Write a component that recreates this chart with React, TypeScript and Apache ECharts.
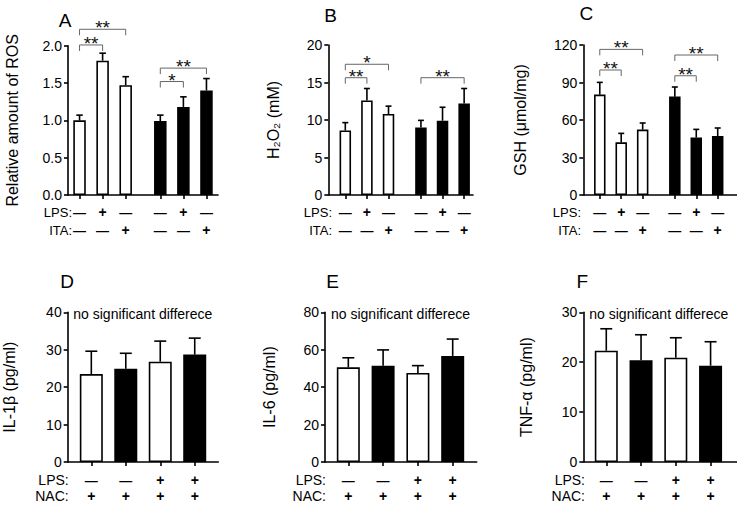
import React, { useEffect, useRef } from "react";
import * as echarts from "echarts";

// ---------- data ----------
const topPositions = [1, 2, 3, 4.5, 5.5, 6.5];
const bottomPositions = [1, 2, 3, 4];
const topGroups = ["open", "open", "open", "filled", "filled", "filled"];
const bottomGroups = ["open", "filled", "open", "filled"];

const rosMean = [1.0, 1.8, 1.47, 0.99, 1.18, 1.4];
const rosErr = [0.07, 0.1, 0.115, 0.08, 0.135, 0.16];
const rosSig: [number, number, number, string][] = [
  [1, 2, 2.01, "**"],
  [1, 3, 2.22, "**"],
  [4.5, 5.5, 1.52, "*"],
  [4.5, 6.5, 1.7, "**"],
];

const h2o2Mean = [8.6, 12.6, 10.8, 9.0, 9.9, 12.2];
const h2o2Err = [1.05, 1.6, 1.05, 0.95, 1.8, 2.0];
const h2o2Sig: [number, number, number, string][] = [
  [1, 2, 15.64, "**"],
  [1, 3, 17.43, "*"],
  [4.5, 6.5, 15.64, "**"],
];

const gshMean = [80.3, 42.1, 52.3, 78.7, 45.9, 47.2];
const gshErr = [9.8, 7.2, 5.3, 7.7, 6.6, 6.4];
const gshSig: [number, number, number, string][] = [
  [1, 2, 100, "**"],
  [1, 3, 116.5, "**"],
  [4.5, 5.5, 95.4, "**"],
  [4.5, 6.5, 112, "**"],
];

const il1bMean = [23.5, 24.9, 26.8, 28.7];
const il1bErr = [6.1, 4.15, 5.5, 4.4];
const il6Mean = [50.6, 51.5, 47.6, 56.7];
const il6Err = [5.1, 8.4, 3.9, 9.0];
const tnfMean = [22.3, 20.4, 20.9, 19.3];
const tnfErr = [4.4, 5.1, 4.0, 4.8];

const topLPS = ["—", "+", "—", "—", "+", "—"];
const topITA = ["—", "—", "+", "—", "—", "+"];
const bottomLPS = ["—", "—", "+", "+"];
const bottomNAC = ["+", "+", "+", "+"];
const topRowNames = ["LPS:", "ITA:"];
const bottomRowNames = ["LPS:", "NAC:"];
const noSigText = "no significant differece";

// ---------- layout ----------
const FONT = "'Liberation Sans', Arial, Helvetica, sans-serif";

type Panel = {
  letter: string;
  yName: string;
  pos: number[];
  groups: string[];
  mean: number[];
  err: number[];
  sig: [number, number, number, string][];
  rows: string[][];
  rowNames: string[];
  yMax: number;
  yInt: number;
  decimals: number;
  noSig: boolean;
  L: {
    left: number; top: number; width: number; height: number;
    xMin: number; xMax: number; barW: number; nameGap: number;
    letterX: number; letterY: number; rowLabelX: number; rowOff: number[];
    rowFont: number; noSigX: number;
  };
};

const panels: Panel[] = [
  {
    letter: "A", yName: "Relative amount of ROS", pos: topPositions, groups: topGroups,
    mean: rosMean, err: rosErr, sig: rosSig, rows: [topLPS, topITA], rowNames: topRowNames,
    yMax: 2, yInt: 0.5, decimals: 1, noSig: false,
    L: { left: 68, top: 45.7, width: 150, height: 149.3, xMin: 0.5, xMax: 7.0, barW: 12.5, nameGap: 48,
      letterX: 65, letterY: 20, rowLabelX: 72, rowOff: [17.3, 35], rowFont: 13, noSigX: 0 },
  },
  {
    letter: "B", yName: "H₂O₂ (mM)", pos: topPositions, groups: topGroups,
    mean: h2o2Mean, err: h2o2Err, sig: h2o2Sig, rows: [topLPS, topITA], rowNames: topRowNames,
    yMax: 20, yInt: 5, decimals: 0, noSig: false,
    L: { left: 328.3, top: 45, width: 144.7, height: 150, xMin: 0.213, xMax: 6.91, barW: 11.5, nameGap: 47,
      letterX: 330.7, letterY: 15.2, rowLabelX: 332, rowOff: [17.3, 35], rowFont: 13, noSigX: 0 },
  },
  {
    letter: "C", yName: "GSH (μmol/mg)", pos: topPositions, groups: topGroups,
    mean: gshMean, err: gshErr, sig: gshSig, rows: [topLPS, topITA], rowNames: topRowNames,
    yMax: 120, yInt: 30, decimals: 0, noSig: false,
    L: { left: 583.3, top: 45, width: 153.7, height: 150, xMin: 0.231, xMax: 7.40, barW: 11.5, nameGap: 55,
      letterX: 586.3, letterY: 13.7, rowLabelX: 581, rowOff: [17.3, 35], rowFont: 13, noSigX: 0 },
  },
  {
    letter: "D", yName: "IL-1β (pg/ml)", pos: bottomPositions, groups: bottomGroups,
    mean: il1bMean, err: il1bErr, sig: [], rows: [bottomLPS, bottomNAC], rowNames: bottomRowNames,
    yMax: 40, yInt: 10, decimals: 0, noSig: true,
    L: { left: 67.7, top: 312.3, width: 150.6, height: 149.7, xMin: 0.315, xMax: 4.684, barW: 23, nameGap: 50,
      letterX: 67, letterY: 281.7, rowLabelX: 68.7, rowOff: [18, 34.3], rowFont: 14, noSigX: 73.3 },
  },
  {
    letter: "E", yName: "IL-6 (pg/ml)", pos: bottomPositions, groups: bottomGroups,
    mean: il6Mean, err: il6Err, sig: [], rows: [bottomLPS, bottomNAC], rowNames: bottomRowNames,
    yMax: 80, yInt: 20, decimals: 0, noSig: true,
    L: { left: 325, top: 312.3, width: 151.7, height: 149.7, xMin: 0.33, xMax: 4.69, barW: 23, nameGap: 48,
      letterX: 332.7, letterY: 281.7, rowLabelX: 326, rowOff: [18, 34.3], rowFont: 14, noSigX: 331 },
  },
  {
    letter: "F", yName: "TNF-α (pg/ml)", pos: bottomPositions, groups: bottomGroups,
    mean: tnfMean, err: tnfErr, sig: [], rows: [bottomLPS, bottomNAC], rowNames: bottomRowNames,
    yMax: 30, yInt: 10, decimals: 0, noSig: true,
    L: { left: 583.3, top: 312.3, width: 153.7, height: 149.7, xMin: 0.339, xMax: 4.76, barW: 23, nameGap: 49,
      letterX: 582.3, letterY: 281.7, rowLabelX: 585, rowOff: [18, 34.3], rowFont: 14, noSigX: 589.3 },
  },
];

function buildOption() {
  const grid: any[] = [];
  const xAxis: any[] = [];
  const yAxis: any[] = [];
  const series: any[] = [];
  const graphic: any[] = [];
  const axisLineStyle = { color: "#000", width: 1.6 };

  panels.forEach((p, i) => {
    const L = p.L;
    grid.push({ left: L.left, top: L.top, width: L.width, height: L.height, containLabel: false, outerBoundsMode: "none" });
    xAxis.push({
      type: "value", gridIndex: i, min: L.xMin, max: L.xMax,
      axisLine: { show: true, onZero: false, lineStyle: axisLineStyle },
      axisTick: { show: true, customValues: p.pos, length: 4, inside: false, lineStyle: axisLineStyle },
      axisLabel: { show: false },
      splitLine: { show: false },
    });
    yAxis.push({
      type: "value", gridIndex: i, min: 0, max: p.yMax, interval: p.yInt,
      name: p.yName, nameLocation: "middle", nameGap: L.nameGap, nameMoveOverlap: false,
      nameTextStyle: { fontSize: 16, color: "#000", fontFamily: FONT },
      axisLine: { show: true, lineStyle: axisLineStyle },
      axisTick: { show: true, length: 4, inside: false, lineStyle: axisLineStyle },
      axisLabel: {
        fontSize: 14, color: "#000", fontFamily: FONT, margin: 6,
        formatter: (v: number) => v.toFixed(p.decimals),
      },
      splitLine: { show: false },
    });

    // bars
    series.push({
      type: "bar", xAxisIndex: i, yAxisIndex: i, barWidth: L.barW, silent: true,
      data: p.pos.map((x, k) => ({
        value: [x, p.mean[k]],
        itemStyle: {
          color: p.groups[k] === "filled" ? "#000" : "#fff",
          borderColor: "#000", borderWidth: 1.6,
        },
      })),
    });

    // error bars (upper only)
    const cap = L.barW * 0.52;
    series.push({
      type: "custom", xAxisIndex: i, yAxisIndex: i, silent: true, z: 3,
      encode: { x: 0, y: 1 },
      data: p.pos.map((x, k) => [x, p.mean[k], p.err[k]]),
      renderItem: (params: any, api: any) => {
        const x = api.value(0), m = api.value(1), e = api.value(2);
        const b = api.coord([x, m]);
        const t = api.coord([x, m + e]);
        const st = { stroke: "#000", lineWidth: 1.6 };
        return {
          type: "group",
          children: [
            { type: "line", shape: { x1: b[0], y1: b[1], x2: t[0], y2: t[1] }, style: st },
            { type: "line", shape: { x1: t[0] - cap / 2, y1: t[1], x2: t[0] + cap / 2, y2: t[1] }, style: st },
          ],
        };
      },
    });

    // significance brackets
    if (p.sig.length) {
      series.push({
        type: "custom", xAxisIndex: i, yAxisIndex: i, silent: true, z: 4,
        encode: { x: [0, 2], y: 1 },
        data: p.sig.map((s) => [s[0], s[2], s[1]]),
        renderItem: (params: any, api: any) => {
          const idx = params.dataIndex;
          const a = api.coord([api.value(0), api.value(1)]);
          const b = api.coord([api.value(2), api.value(1)]);
          const drop = 6;
          return {
            type: "group",
            children: [
              {
                type: "polyline",
                shape: { points: [[a[0], a[1] + drop], [a[0], a[1]], [b[0], b[1]], [b[0], b[1] + drop]] },
                style: { stroke: "#666", lineWidth: 1, fill: "none" },
              },
              {
                type: "text",
                style: {
                  text: p.sig[idx][3], x: (a[0] + b[0]) / 2, y: a[1] - 1.5,
                  align: "center", verticalAlign: "middle",
                  fontSize: 19, fontFamily: FONT, fill: "#111",
                },
              },
            ],
          };
        },
      });
    }

    // +/- rows under the axis
    series.push({
      type: "custom", xAxisIndex: i, yAxisIndex: i, silent: true, z: 4,
      encode: { x: 0, y: 1 },
      data: p.pos.map((x) => [x, 0]),
      renderItem: (params: any, api: any) => {
        const idx = params.dataIndex;
        const c = api.coord([api.value(0), 0]);
        return {
          type: "group",
          children: p.rows.map((row, r) => ({
            type: "text",
            style: {
              text: row[idx], x: c[0], y: c[1] + L.rowOff[r],
              align: "center", verticalAlign: "middle",
              fontSize: row[idx] === "+" ? 14 : 13, fontWeight: "bold",
              fontFamily: FONT, fill: "#000",
            },
          })),
        };
      },
    });

    // row labels
    p.rowNames.forEach((nm, r) => {
      graphic.push({
        type: "text", x: L.rowLabelX, y: L.top + L.height + L.rowOff[r], silent: true,
        style: { text: nm, align: "right", verticalAlign: "middle", fontSize: L.rowFont, fontFamily: FONT, fill: "#000" },
      });
    });

    // panel letter
    graphic.push({
      type: "text", x: L.letterX, y: L.letterY, silent: true,
      style: { text: p.letter, align: "center", verticalAlign: "middle", fontSize: 19, fontFamily: FONT, fill: "#000" },
    });

    if (p.noSig) {
      graphic.push({
        type: "text", x: L.noSigX, y: 314, silent: true,
        style: { text: noSigText, align: "left", verticalAlign: "middle", fontSize: 14, fontFamily: FONT, fill: "#000" },
      });
    }
  });

  return {
    animation: false,
    backgroundColor: "#fff",
    textStyle: { fontFamily: FONT },
    grid, xAxis, yAxis, series, graphic,
  };
}

export default function App() {
  const ref = useRef<HTMLDivElement>(null);
  useEffect(() => {
    if (!ref.current) return;
    const chart = echarts.init(ref.current, undefined, { renderer: "svg" });
    chart.setOption(buildOption() as any);
    return () => chart.dispose();
  }, []);
  return (
    <div
      ref={ref}
      style={{ position: "fixed", left: 0, top: 0, width: 737, height: 505, background: "#fff" }}
    />
  );
}
